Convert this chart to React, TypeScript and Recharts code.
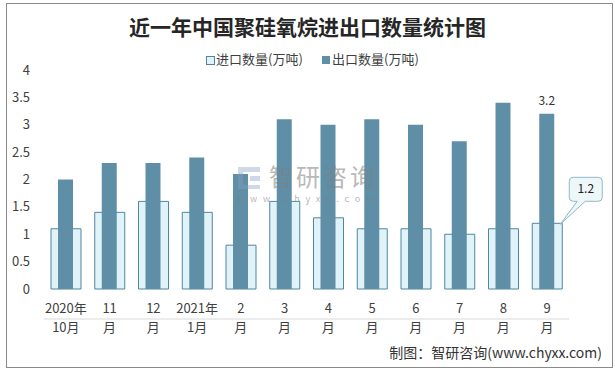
import React from 'react';
import { BarChart, Bar, XAxis, YAxis, LabelList } from 'recharts';

// month labels, two lines each
const months = ['2020年|10月', '11|月', '12|月', '2021年|1月', '2|月', '3|月', '4|月', '5|月', '6|月', '7|月', '8|月', '9|月'];
const importQty = [1.1, 1.4, 1.6, 1.4, 0.8, 1.6, 1.3, 1.1, 1.1, 1.0, 1.1, 1.2];
const exportQty = [2.0, 2.3, 2.3, 2.4, 2.1, 3.1, 3.0, 3.1, 3.0, 2.7, 3.4, 3.2];
const yTicks = [0, 0.5, 1, 1.5, 2, 2.5, 3, 3.5, 4];

const data = months.map((m, i) => ({ month: m, imp: importQty[i], exp: exportQty[i] }));

const font = '"Noto Sans CJK SC", "Noto Sans", sans-serif';
const expColor = '#5e8fa6';
const impFill = '#e0f3f9';
const impStroke = '#4f86a0';

const MonthTick = (props: any) => {
  const { x, y, payload } = props;
  const [a, b] = String(payload.value).split('|');
  return (
    <g>
      <text x={x} y={y - 14} textAnchor="middle" fontSize={13} fill="#404040" fontFamily={font}>{a}</text>
      <text x={x} y={y + 5} textAnchor="middle" fontSize={13} fill="#404040" fontFamily={font}>{b}</text>
    </g>
  );
};

const LastExportLabel = (props: any) => {
  const { x, y, width, index, value } = props;
  if (index !== exportQty.length - 1) return null;
  return (
    <text x={x + width / 2} y={y - 9} textAnchor="middle" fontSize={12} fill="#333" fontFamily={font}>{value}</text>
  );
};

const CalloutLabel = (props: any) => {
  const { x, y, width, index, value } = props;
  if (index !== importQty.length - 1) return null;
  const tx = x + width - 2;
  const ty = y + 1;
  const bx = tx + 9;
  const by = ty - 47;
  const bw = 33;
  const bh = 24;
  return (
    <g>
      <path
        d={`M${bx + 4},${by} H${bx + bw - 4} Q${bx + bw},${by} ${bx + bw},${by + 4} V${by + bh - 4} Q${bx + bw},${by + bh} ${bx + bw - 4},${by + bh} H${bx + 16} L${tx},${ty} L${bx + 8},${by + bh} H${bx + 4} Q${bx},${by + bh} ${bx},${by + bh - 4} V${by + 4} Q${bx},${by} ${bx + 4},${by} Z`}
        fill="#eef7f8"
        stroke="#8fb8c8"
        strokeWidth={1}
      />
      <text x={bx + bw / 2} y={by + 16} textAnchor="middle" fontSize={12} fill="#222" fontFamily={font}>{value}</text>
    </g>
  );
};

const App = () => {
  return (
    <div style={{ position: 'absolute', left: 0, top: 0, width: 615, height: 370, background: '#fff', fontFamily: font }}>
      <div style={{ position: 'absolute', left: 6, top: 3, width: 605, height: 363, border: '1.5px solid #8a8a8a' }} />
      <div style={{ position: 'absolute', left: 0, top: 11, width: 615, textAlign: 'center', fontSize: 21, fontWeight: 'bold', color: '#262626' }}>
        近一年中国聚硅氧烷进出口数量统计图
      </div>
      <div style={{ position: 'absolute', left: 206, top: 56, width: 7, height: 7, background: impFill, border: `1px solid ${impStroke}` }} />
      <div style={{ position: 'absolute', left: 216, top: 49, fontSize: 13, color: '#404040' }}>进口数量(万吨)</div>
      <div style={{ position: 'absolute', left: 322, top: 56, width: 8, height: 8, background: expColor }} />
      <div style={{ position: 'absolute', left: 332, top: 49, fontSize: 13, color: '#404040' }}>出口数量(万吨)</div>
      <BarChart
        width={615}
        height={370}
        data={data}
        margin={{ top: 70, right: 46, left: 10, bottom: 36 }}
        style={{ position: 'absolute', left: 0, top: 0 }}
      >
        <XAxis
          xAxisId="imp"
          dataKey="month"
          interval={0}
          tick={<MonthTick />}
          tickLine={false}
          axisLine={{ stroke: '#d9d9d9' }}
          height={45}
        />
        <XAxis xAxisId="exp" dataKey="month" hide />
        <YAxis
          domain={[0, 4]}
          ticks={yTicks}
          width={34}
          axisLine={false}
          tickLine={false}
          tickSize={0}
          tickMargin={14}
          tick={{ fontSize: 13, fill: '#404040', fontFamily: font }}
        />
        <Bar xAxisId="imp" dataKey="imp" barSize={30} fill={impFill} stroke={impStroke} strokeWidth={1} isAnimationActive={false}>
          <LabelList dataKey="imp" content={<CalloutLabel />} />
        </Bar>
        <Bar xAxisId="exp" dataKey="exp" barSize={15} fill={expColor} isAnimationActive={false}>
          <LabelList dataKey="exp" content={<LastExportLabel />} />
        </Bar>
      </BarChart>
      {/* watermark */}
      <div style={{ position: 'absolute', left: 238, top: 167, opacity: 0.4 }}>
        <div style={{ position: 'absolute', left: 0, top: 0, width: 22, height: 5, background: '#8aa0c8' }} />
        <div style={{ position: 'absolute', left: 12, top: 9, width: 10, height: 5, background: '#8aa0c8' }} />
        <div style={{ position: 'absolute', left: 0, top: 5, width: 5, height: 17, background: '#8aa0c8' }} />
        <div style={{ position: 'absolute', left: 0, top: 18, width: 22, height: 4, background: '#8aa0c8' }} />
      </div>
      <div style={{ position: 'absolute', left: 269, top: 164, fontSize: 24, lineHeight: '24px', letterSpacing: 3, color: '#808080', opacity: 0.55, whiteSpace: 'nowrap' }}>智研咨询</div>
      <div style={{ position: 'absolute', left: 237, top: 194, fontSize: 9, lineHeight: '9px', letterSpacing: 5.8, color: '#808080', opacity: 0.55, whiteSpace: 'nowrap' }}>www.chyxx.com</div>
      <div style={{ position: 'absolute', right: 13, top: 342, fontSize: 14, color: '#333' }}>制图：智研咨询(www.chyxx.com)</div>
    </div>
  );
};

export default App;
